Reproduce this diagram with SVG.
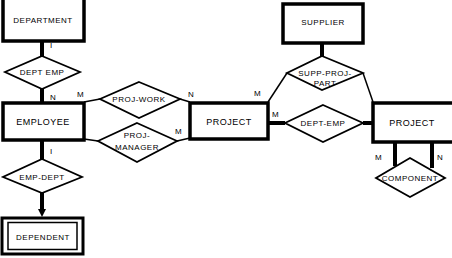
<svg xmlns="http://www.w3.org/2000/svg" width="452" height="258" viewBox="0 0 452 258">
<style>
.ent{fill:#fff;stroke:#000;stroke-width:3.5}
.rel{fill:#fff;stroke:#000;stroke-width:1.8;stroke-linejoin:miter}
.thick{stroke:#000;stroke-width:4;fill:none}
.thin{stroke:#000;stroke-width:1.5;fill:none}
text{font-family:"Liberation Sans",Arial,sans-serif;font-size:8px;fill:#000;text-anchor:middle;letter-spacing:0.5px}
.card{font-size:8px;text-anchor:start;letter-spacing:0}
</style>
<defs>
<marker id="arr" markerWidth="8" markerHeight="8" refX="4" refY="4" orient="auto" markerUnits="userSpaceOnUse">
<path d="M0,0 L8,4 L0,8 Z" fill="#000"/>
</marker>
</defs>
<rect width="452" height="258" fill="#fff"/>
<g id="connectors">
<line class="thick" x1="42" y1="41" x2="42" y2="56"/>
<line class="thick" x1="42" y1="89" x2="42" y2="103"/>
<line class="thick" x1="42" y1="140" x2="42" y2="159"/>
<line class="thick" x1="42" y1="192" x2="42" y2="213" marker-end="url(#arr)"/>
<line class="thin" x1="84" y1="102" x2="100" y2="99"/>
<line class="thin" x1="180" y1="99" x2="190" y2="102"/>
<line class="thin" x1="84" y1="139" x2="98" y2="141"/>
<line class="thin" x1="177" y1="141" x2="190" y2="138"/>
<line class="thick" x1="322" y1="43" x2="322" y2="56"/>
<line class="thin" x1="287" y1="73" x2="268" y2="102"/>
<line class="thin" x1="363" y1="73" x2="373" y2="102"/>
<line class="thick" x1="268" y1="123" x2="285" y2="123"/>
<line class="thick" x1="363" y1="123" x2="373" y2="123"/>
<line class="thick" x1="395" y1="143" x2="395" y2="166"/>
<line class="thick" x1="432" y1="143" x2="432" y2="168"/>
</g>
<g id="department">
<rect class="ent" x="3" y="-2" width="81" height="43"/>
<text x="43" y="23">DEPARTMENT</text>
</g>
<g id="dept-emp">
<polygon class="rel" points="42,56 80,72 42,89 5,72"/>
<text x="42" y="75">DEPT EMP</text>
</g>
<g id="employee">
<rect class="ent" x="3" y="103" width="81" height="37"/>
<text x="43" y="125" style="font-size:9px">EMPLOYEE</text>
</g>
<g id="emp-dept">
<polygon class="rel" points="42,159 82,177 42,193 3,177"/>
<text x="42" y="180">EMP-DEPT</text>
</g>
<g id="dependent">
<rect class="ent" x="2" y="218" width="81" height="36" style="stroke-width:3"/>
<rect x="8" y="222.5" width="69" height="27" fill="none" stroke="#000" stroke-width="1.5"/>
<text x="43" y="240">DEPENDENT</text>
</g>
<g id="proj-work">
<polygon class="rel" points="139,82 180,99 139,118 100,99"/>
<text x="139" y="102">PROJ-WORK</text>
</g>
<g id="proj-manager">
<polygon class="rel" points="137,123 177,141 137,162 98,141"/>
<text x="137" y="138">PROJ-</text>
<text x="137" y="150">MANAGER</text>
</g>
<g id="project1">
<rect class="ent" x="190" y="103" width="78" height="36"/>
<text x="229" y="125" style="font-size:9px">PROJECT</text>
</g>
<g id="supplier">
<rect class="ent" x="283" y="4" width="80" height="39"/>
<text x="323" y="25">SUPPLIER</text>
</g>
<g id="supp-proj-part">
<polygon class="rel" points="322,56 363,73 322,90 287,73"/>
<text x="325" y="76">SUPP-PROJ-</text>
<text x="325" y="86">PART</text>
</g>
<g id="dept-emp2">
<polygon class="rel" points="323,105 363,123 323,142 285,123"/>
<text x="323" y="126">DEPT-EMP</text>
</g>
<g id="project2">
<rect class="ent" x="373" y="103" width="84" height="39"/>
<text x="412" y="126" style="font-size:9px">PROJECT</text>
</g>
<g id="component">
<polygon class="rel" points="410,158 445,178 410,197 376,178"/>
<text x="410" y="181">COMPONENT</text>
</g>
<g id="cardinalities">
<text class="card" x="50" y="48">I</text>
<text class="card" x="50" y="100">N</text>
<text class="card" x="77" y="97">M</text>
<text class="card" x="188" y="97">N</text>
<text class="card" x="175" y="134">M</text>
<text class="card" x="50" y="154">I</text>
<text class="card" x="254" y="96">M</text>
<text class="card" x="272" y="117">M</text>
<text class="card" x="375" y="160">M</text>
<text class="card" x="437" y="160">N</text>
</g>
</svg>
